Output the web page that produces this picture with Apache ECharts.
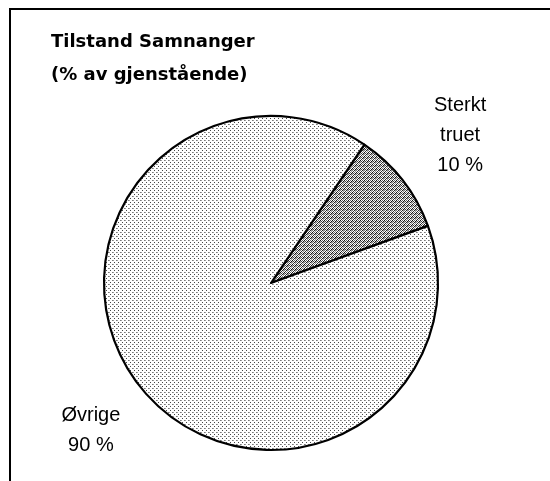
<!DOCTYPE html>
<html><head><meta charset="utf-8">
<script src="https://cdn.jsdelivr.net/npm/echarts@6/dist/echarts.min.js"></script>
<style>
html,body{margin:0;padding:0;background:#fff;overflow:hidden}
#frame{position:absolute;left:9px;top:8px;width:600px;height:520px;border-left:2px solid #000;border-top:2px solid #000;}
#chart{position:absolute;left:0;top:0;width:550px;height:481px}
</style></head><body>
<div id="frame"></div>
<div id="chart"></div>
<script>
const titleLines = ['Tilstand Samnanger', '(% av gjenstående)'];
const categories = ['Sterkt truet', 'Øvrige'];
const labelNameLines = [['Sterkt', 'truet'], ['Øvrige']];
const values = [10, 90];
const percentLabels = ['10 %', '90 %'];

function makePattern(size, pixels) {
  const c = document.createElement('canvas');
  c.width = size; c.height = size;
  const ctx = c.getContext('2d');
  ctx.fillStyle = '#ffffff';
  ctx.fillRect(0, 0, size, size);
  pixels.forEach(p => { ctx.fillStyle = p[2]; ctx.fillRect(p[0], p[1], 1, 1); });
  return c;
}
const lightDots = makePattern(4, [[0,0,'#7a7a7a'],[1,0,'#a0a0a0'],[2,2,'#444444']]);
const denseDots = makePattern(4, [[0,0,'#111'],[2,0,'#666'],[1,1,'#444'],[3,1,'#111'],[0,2,'#777'],[2,2,'#222'],[1,3,'#333'],[3,3,'#888'],[3,2,'#aaa'],[0,1,'#bbb']]);
const fills = [denseDots, lightDots];
const labelShiftX = [0, 9];

const chart = echarts.init(document.getElementById('chart'), null, {renderer: 'canvas'});
chart.setOption({
  animation: false,
  title: {
    text: titleLines.join('\n'),
    left: 51, top: 26, padding: 0,
    textStyle: {fontFamily: 'DejaVu Sans', fontWeight: 'bold', fontSize: 18, lineHeight: 33, color: '#000'}
  },
  series: [{
    type: 'pie',
    center: [271, 283],
    radius: 167,
    startAngle: 56,
    clockwise: true,
    avoidLabelOverlap: false,
    emphasis: {disabled: true},
    itemStyle: {borderColor: '#000', borderWidth: 2.2},
    labelLine: {show: false, length: 73, length2: 0},
    labelLayout: p => ({align: 'center', dx: labelShiftX[p.dataIndex]}),
    label: {
      show: true,
      position: 'outside',
      distanceToLabelLine: 0,
      formatter: p => labelNameLines[p.dataIndex].concat([percentLabels[p.dataIndex]]).map(s => '{a|' + s + '}').join('\n'),
      rich: {a: {align: 'center', fontFamily: 'Liberation Sans', fontSize: 20, lineHeight: 30, color: '#000'}}
    },
    data: categories.map((c, i) => ({name: c, value: values[i], itemStyle: {color: {image: fills[i], repeat: 'repeat'}}}))
  }]
});
</script>
</body></html>
